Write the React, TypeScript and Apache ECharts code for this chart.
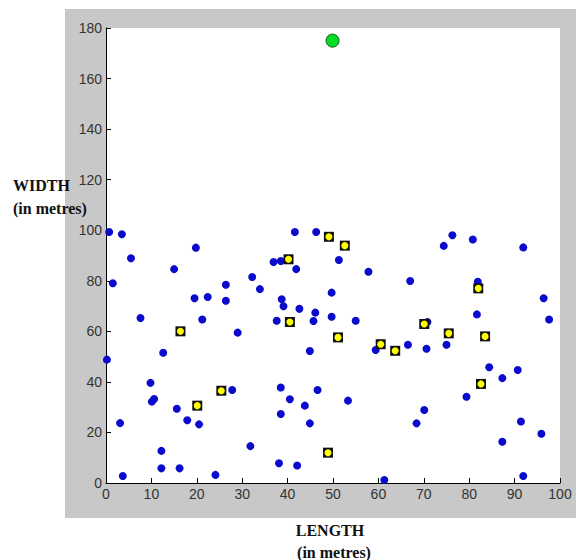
import React, { useEffect, useRef } from "react";
import * as echarts from "echarts";

const xTicks = { min: 0, max: 100, interval: 10 };
const yTicks = { min: 0, max: 180, interval: 20 };

const bluePoints: number[][] = [
  [0.7, 99.3], [3.5, 98.4], [5.5, 88.9], [19.8, 93.1], [15.0, 84.6], [1.5, 79.0],
  [7.6, 65.3], [19.5, 73.1], [22.4, 73.6], [26.4, 78.4], [26.4, 72.1], [21.2, 64.7],
  [29.0, 59.5], [12.6, 51.5], [32.2, 81.5], [33.9, 76.7], [36.9, 87.4], [38.5, 87.8],
  [41.9, 84.6], [41.6, 99.3], [46.3, 99.3], [51.3, 88.2], [38.7, 72.7], [39.1, 69.9],
  [42.6, 68.9], [37.6, 64.2], [45.7, 64.1], [46.1, 67.4], [49.7, 75.3], [49.7, 65.8],
  [44.9, 52.2], [0.2, 48.8], [57.8, 83.6], [67.0, 79.9], [74.4, 93.8], [76.3, 98.0],
  [80.8, 96.3], [91.9, 93.2], [81.9, 79.6], [55.0, 64.2], [96.4, 73.1], [97.6, 64.7],
  [81.7, 66.7], [70.8, 63.7], [59.4, 52.6], [66.5, 54.7], [70.6, 53.1], [75.0, 54.7],
  [9.8, 39.6], [27.8, 36.8], [10.1, 32.2], [10.6, 33.2], [15.6, 29.4], [17.9, 24.8],
  [20.5, 23.2], [3.1, 23.7], [12.2, 12.7], [12.2, 5.8], [16.2, 5.8], [3.7, 2.8],
  [24.1, 3.2], [31.8, 14.6], [38.5, 37.8], [40.5, 33.1], [38.5, 27.3], [43.8, 30.6],
  [44.9, 23.6], [46.6, 36.8], [38.1, 7.8], [42.1, 6.9], [53.3, 32.6], [61.3, 1.2],
  [68.4, 23.6], [70.1, 28.9], [79.4, 34.1], [84.4, 45.8], [87.3, 41.5], [90.7, 44.7],
  [91.4, 24.3], [95.9, 19.5], [87.3, 16.3], [91.9, 2.8],
];

const yellowPoints: number[][] = [
  [16.4, 60.0], [40.2, 88.5], [49.1, 97.4], [40.5, 63.7], [51.1, 57.6], [52.6, 93.9],
  [82.0, 77.0], [70.1, 62.9], [75.5, 59.2], [83.5, 58.0], [60.5, 54.9], [63.7, 52.3],
  [25.4, 36.5], [20.1, 30.6], [48.9, 12.0], [82.6, 39.2],
];

const greenPoints: number[][] = [[49.9, 175]];

const yTitle = ["WIDTH", "(in metres)"];
const xTitle = ["LENGTH", "(in metres)"];

export default function App() {
  const ref = useRef<HTMLDivElement>(null);
  useEffect(() => {
    if (!ref.current) return;
    const chart = echarts.init(ref.current, undefined, { renderer: "svg" });
    const axisText = { color: "#333", fontSize: 14, fontFamily: "Liberation Sans, Arial, sans-serif" };
    const titleFont = { fontFamily: "Liberation Serif, Times New Roman, serif", fontWeight: "bold" as const, fontSize: 16, fill: "#111" };
    chart.setOption({
      animation: false,
      backgroundColor: "#ffffff",
      graphic: [
        { type: "rect", z: -10, silent: true, shape: { x: 65, y: 9, width: 511, height: 509 }, style: { fill: "#c8c8c8" } },
        { type: "text", left: 13, top: 177, style: { text: yTitle[0], ...titleFont } },
        { type: "text", left: 13, top: 200, style: { text: yTitle[1], ...titleFont } },
        { type: "text", x: 330, y: 530, style: { text: xTitle[0], align: "center", verticalAlign: "middle", ...titleFont } },
        { type: "text", x: 334, y: 552, style: { text: xTitle[1], align: "center", verticalAlign: "middle", ...titleFont } },
      ],
      grid: { left: 106, right: 16, top: 28, bottom: 77, show: true, backgroundColor: "#ffffff", borderWidth: 0 },
      xAxis: {
        type: "value",
        min: xTicks.min, max: xTicks.max, interval: xTicks.interval,
        splitLine: { show: false },
        axisLine: { show: true, onZero: false, lineStyle: { color: "#000", width: 1 } },
        axisTick: { show: true, inside: true, length: 5, lineStyle: { color: "#000" } },
        axisLabel: { ...axisText, margin: 4 },
      },
      yAxis: {
        type: "value",
        min: yTicks.min, max: yTicks.max, interval: yTicks.interval,
        splitLine: { show: false },
        axisLine: { show: true, onZero: false, lineStyle: { color: "#000", width: 1 } },
        axisTick: { show: true, inside: true, length: 5, lineStyle: { color: "#000" } },
        axisLabel: { ...axisText, margin: 4 },
      },
      series: [
        {
          type: "scatter", data: bluePoints, symbol: "circle", symbolSize: 8,
          itemStyle: { color: "#0a0acc", opacity: 1 }, z: 2,
        },
        {
          type: "scatter", data: yellowPoints, symbol: "rect", symbolSize: 10,
          itemStyle: { color: "#111111", opacity: 1 }, z: 3,
        },
        {
          type: "scatter", data: yellowPoints, symbol: "circle", symbolSize: 7,
          itemStyle: { color: "#ffff00", opacity: 1 }, z: 4,
        },
        {
          type: "scatter", data: greenPoints, symbol: "circle", symbolSize: 13,
          itemStyle: { color: "#00dd22", borderColor: "#1a5a1a", borderWidth: 1, opacity: 1 }, z: 5,
        },
      ],
    });
    return () => chart.dispose();
  }, []);
  return <div ref={ref} style={{ position: "fixed", left: 0, top: 0, width: 576, height: 560 }} />;
}
